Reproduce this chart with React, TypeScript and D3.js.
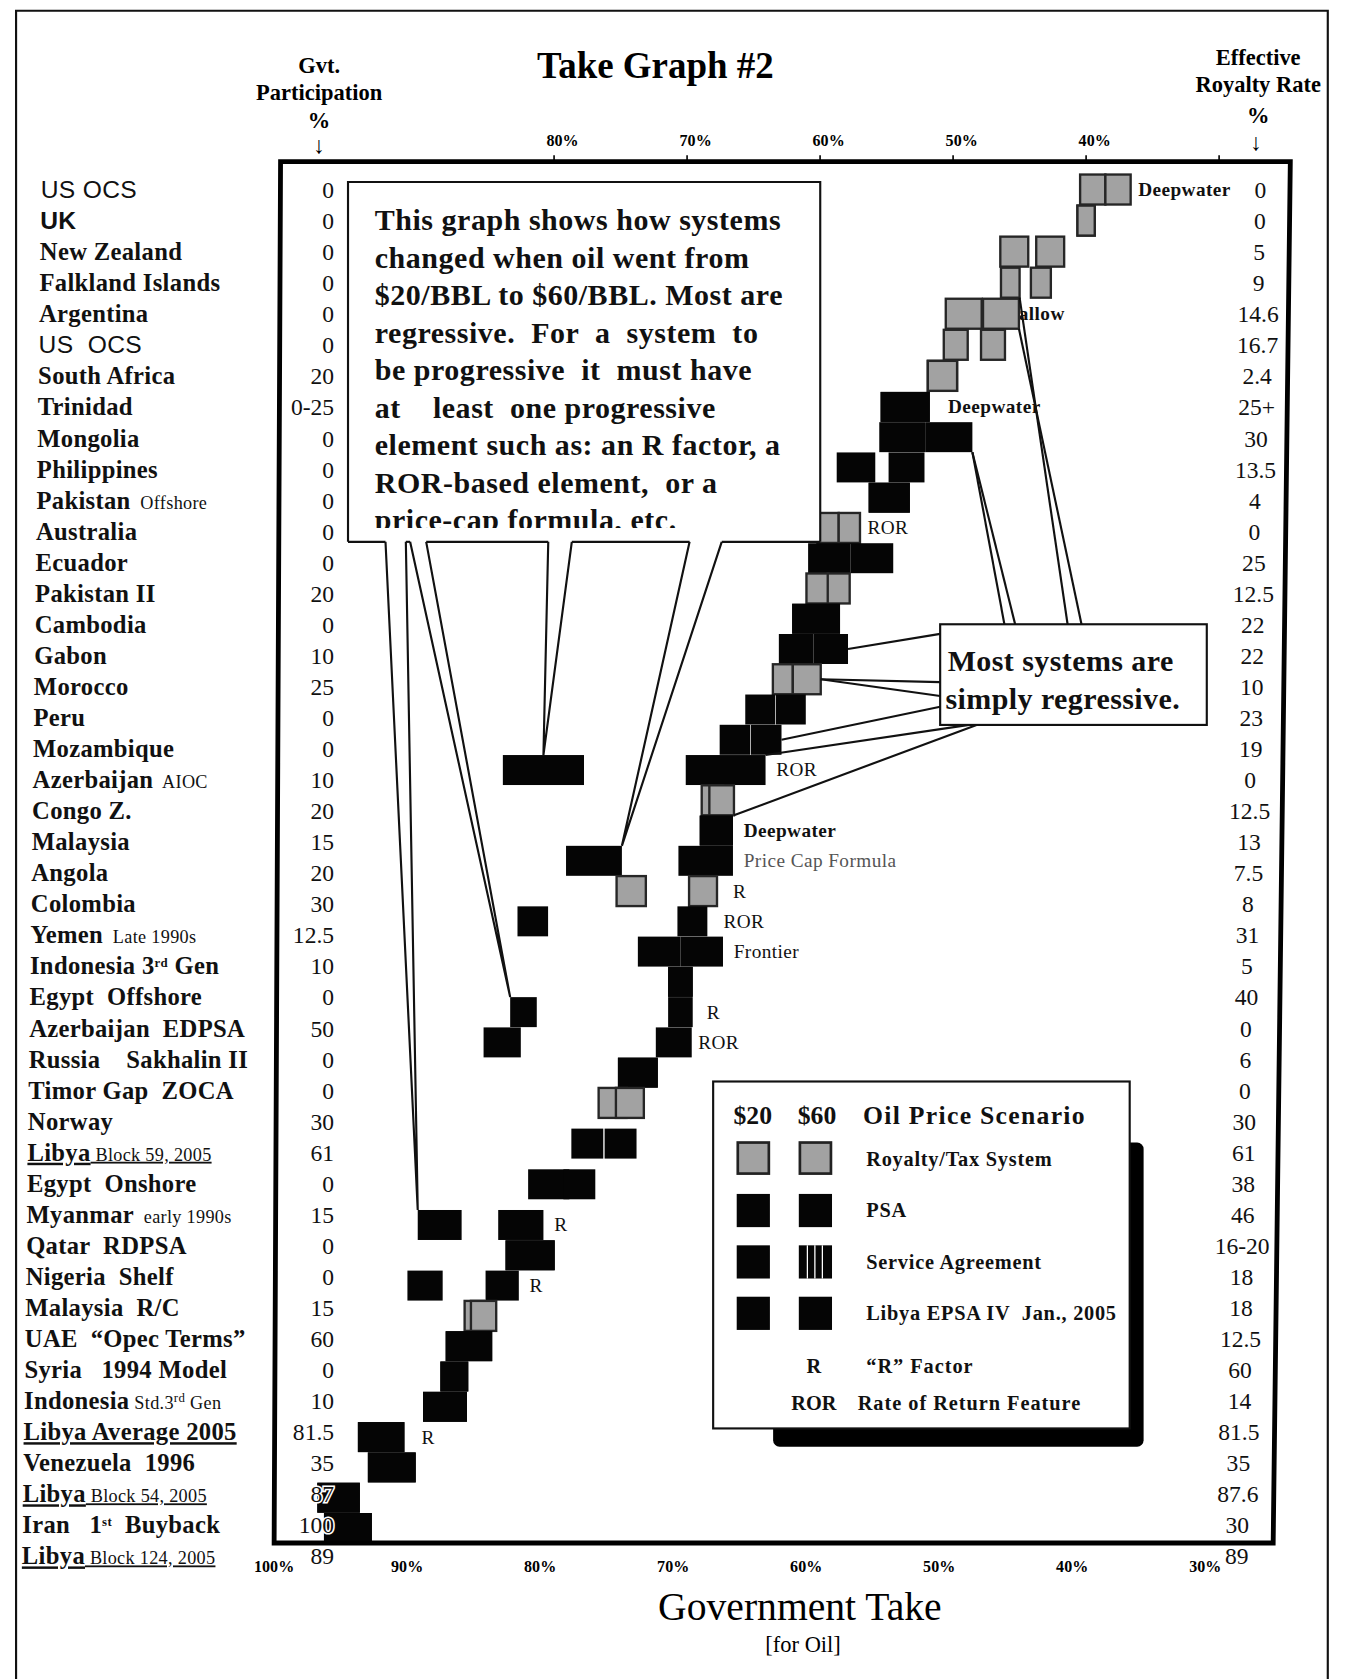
import React from 'react';
import * as d3 from 'd3';

// rows, top to bottom.  "|" starts the small part, ^..^ is a superscript
const rowLabels = [
  'US OCS', 'UK', 'New Zealand', 'Falkland Islands', 'Argentina', 'US  OCS',
  'South Africa', 'Trinidad', 'Mongolia', 'Philippines', 'Pakistan|  Offshore',
  'Australia', 'Ecuador', 'Pakistan II', 'Cambodia', 'Gabon', 'Morocco', 'Peru',
  'Mozambique', 'Azerbaijan|  AIOC', 'Congo Z.', 'Malaysia', 'Angola', 'Colombia',
  'Yemen|  Late 1990s', 'Indonesia 3^rd^ Gen', 'Egypt  Offshore', 'Azerbaijan  EDPSA',
  'Russia    Sakhalin II', 'Timor Gap  ZOCA', 'Norway', 'Libya| Block 59, 2005',
  'Egypt  Onshore', 'Myanmar|  early 1990s', 'Qatar  RDPSA', 'Nigeria  Shelf',
  'Malaysia  R/C', 'UAE  \u201cOpec Terms\u201d', 'Syria   1994 Model',
  'Indonesia| Std.3^rd^ Gen', 'Libya Average 2005', 'Venezuela  1996',
  'Libya| Block 54, 2005', 'Iran   1^st^  Buyback', 'Libya| Block 124, 2005',
];
const underlinedRows = [31, 40, 42, 44];
const sansRows = [0, 1, 5];

const govtParticipation = [
  '0', '0', '0', '0', '0', '0', '20', '0-25', '0', '0', '0', '0', '0', '20', '0',
  '10', '25', '0', '0', '10', '20', '15', '20', '30', '12.5', '10', '0', '50', '0',
  '0', '30', '61', '0', '15', '0', '0', '15', '60', '0', '10', '81.5', '35', '87',
  '100', '89',
];
const royaltyRate = [
  '0', '0', '5', '9', '14.6', '16.7', '2.4', '25+', '30', '13.5', '4', '0', '25',
  '12.5', '22', '22', '10', '23', '19', '0', '12.5', '13', '7.5', '8', '31', '5',
  '40', '0', '6', '0', '30', '61', '38', '46', '16-20', '18', '18', '12.5', '60',
  '14', '81.5', '35', '87.6', '30', '89',
];

// rt = royalty/tax system (grey), psa = black
const systemType = [
  'rt', 'rt', 'rt', 'rt', 'rt', 'rt', 'rt', 'psa', 'psa', 'psa', 'psa', 'rt', 'psa',
  'rt', 'psa', 'psa', 'rt', 'psa', 'psa', 'psa', 'rt', 'psa', 'psa', 'rt', 'psa',
  'psa', 'psa', 'psa', 'psa', 'psa', 'rt', 'psa', 'psa', 'psa', 'psa', 'psa', 'rt',
  'psa', 'psa', 'psa', 'psa', 'psa', 'psa', 'psa', 'none',
];

// government take (%) at $20 and $60 oil, and the drawn box width (% take)
const take20 = [
  39.5, 40.0, 45.4, 45.7, 49.2, 49.8, 50.8, 53.6, 53.8, 57.3, 54.8, 59.4, 59.3,
  60.2, 60.3, 61.8, 62.8, 64.5, 66.4, 67.1, 68.1, 67.8, 68.6, 68.8, 69.6, 72.1,
  70.5, 70.5, 71.0, 73.7, 75.6, 77.5, 80.4, 82.5, 81.8, 83.9, 86.0, 86.4, 87.5,
  88.2, 93.0, 92.2, 96.2, 95.5, NaN,
];
const take60 = [
  37.6, 40.0, 42.7, 43.4, 46.4, 47.0, 50.8, 53.6, 50.3, 53.5, 54.8, 57.8, 56.1,
  58.6, 60.3, 59.2, 61.0, 62.2, 64.05, 80.8, 67.4, 67.8, 77.0, 74.2, 81.6, 68.9,
  70.5, 82.3, 83.9, 73.7, 74.3, 75.0, 78.1, 88.6, 81.8, 89.7, 85.3, 86.4, 87.5,
  88.2, 93.0, 92.2, 96.2, 95.5, NaN,
];
const width20 = [
  1.9, 1.3, 2.1, 1.4, 2.7, 1.8, 2.2, 3.7, 3.5, 2.9, 3.1, 1.6, 3.2, 1.65, 3.6, 2.6,
  1.5, 2.25, 2.3, 6.0, 1.6, 2.5, 4.1, 2.1, 2.25, 3.2, 1.85, 1.85, 2.7, 3.0, 2.1,
  2.4, 3.1, 3.4, 3.7, 2.5, 1.45, 3.5, 2.1, 3.3, 3.5, 3.6, 3.2, 3.6, 0,
];
const width60 = [
  1.9, 1.3, 2.1, 1.5, 2.7, 1.8, 2.2, 3.7, 3.5, 2.7, 3.1, 1.6, 3.2, 1.65, 3.6, 2.6,
  2.1, 2.25, 2.3, 6.1, 1.85, 2.5, 4.2, 2.2, 2.3, 3.2, 1.85, 2.0, 2.8, 3.0, 2.1,
  2.4, 2.4, 3.3, 3.7, 2.65, 1.9, 3.5, 2.1, 3.3, 3.5, 3.6, 3.2, 3.6, 0,
];

const rowNotes = [
  { row: 0, text: 'Deepwater', bold: true, dx: 7 },
  { row: 4, text: 'Shallow', bold: true, dx: -21 },
  { row: 7, text: 'Deepwater', bold: true, dx: 17 },
  { row: 11, text: 'ROR', dx: 7 },
  { row: 19, text: 'ROR' },
  { row: 21, text: 'Deepwater', bold: true },
  { row: 22, text: 'Price Cap Formula', grey: true },
  { row: 23, text: 'R', dx: 15 },
  { row: 24, text: 'ROR', dx: 15 },
  { row: 25, text: 'Frontier' },
  { row: 27, text: 'R', dx: 13 },
  { row: 28, text: 'ROR', dx: 6 },
  { row: 33, text: 'R' },
  { row: 35, text: 'R' },
  { row: 40, text: 'R', dx: 16 },
];

const topTicks = [80, 70, 60, 50, 40];
const bottomTicks = [100, 90, 80, 70, 60, 50, 40, 30];

const noteLines = [
  'This graph shows how systems',
  'changed when oil went from',
  '$20/BBL to $60/BBL. Most are',
  'regressive.  For  a  system  to',
  'be progressive  it  must have',
  'at    least  one progressive',
  'element such as: an R factor, a',
  'ROR-based element,  or a',
  'price-cap formula, etc.',
];
// wedges from the bottom of the big note to the progressive ($60) boxes
const notePointers = [
  { base: [360, 379], row: 33, at: 'tl' },
  { base: [383, 398], row: 27, at: 'tl' },
  { base: [512, 534], row: 19, at: 'tc' },
  { base: [644, 674], row: 22, at: 'tr' },
];
// lines from the "Most systems" box to regressive systems
const regressivePointers = [
  { from: [938, 583], row: 8, price: 60, at: 'br' },
  { from: [948, 583], row: 8, price: 60, at: 'br' },
  { from: [997, 583], row: 3, price: 20, at: 'br' },
  { from: [1010, 583], row: 4, price: 60, at: 'br' },
  { from: [878, 592], row: 15, price: 60, at: 'rc' },
  { from: [878, 637], row: 16, price: 60, at: 'rc' },
  { from: [878, 650], row: 16, price: 60, at: 'rc' },
  { from: [878, 660], row: 18, price: 60, at: 'rc' },
  { from: [905, 677], row: 19, price: 20, at: 'tr' },
  { from: [912, 677], row: 20, price: 60, at: 'br' },
];

const legendItems = ['Royalty/Tax System', 'PSA', 'Service Agreement', 'Libya EPSA IV  Jan., 2005'];
const legendTypes = ['rt', 'psa', 'sa', 'libya'];
const legendCodes = [['R', '\u201cR\u201d Factor'], ['ROR', 'Rate of Return Feature']];

const SERIF = '"Liberation Serif", "Times New Roman", serif';
const SANS = '"Liberation Sans", Arial, sans-serif';
const GREY = '#a2a2a2';

const x = d3.scaleLinear().domain([100, 30]).range([269, 1138.5]);
// label rows
const y = d3.scaleLinear().domain([0, 44]).range([177, 1453]);
// box rows: the hand-drawn boxes drift up against the labels in the middle of the sheet
const yBox = d3.scaleLinear().domain([0, 7, 30, 33, 43, 44]).range([177, 380, 1030, 1144, 1427, 1456]);
const BOX_H = 28;

const box = (i: number, price: number) => {
  const t = price === 20 ? take20[i] : take60[i];
  const w = price === 20 ? width20[i] : width60[i];
  return {
    x0: x(t + w / 2),
    x1: x(t - w / 2),
    y0: yBox(i) - BOX_H / 2,
    y1: yBox(i) + BOX_H / 2,
  };
};

const anchor = (i: number, price: number, at: string): [number, number] => {
  const b = box(i, price);
  const cx = (b.x0 + b.x1) / 2;
  const cy = (b.y0 + b.y1) / 2;
  switch (at) {
    case 'tl': return [b.x0, b.y0];
    case 'tc': return [cx, b.y0];
    case 'tr': return [b.x1, b.y0];
    case 'br': return [b.x1, b.y1];
    case 'rc': return [b.x1, cy];
    default: return [cx, cy];
  }
};

const labelParts = (s: string) => {
  const [main, small] = s.split('|');
  const parts: { t: string; small: boolean; sup: boolean }[] = [];
  const push = (str: string, sm: boolean) =>
    str.split('^').forEach((t, k) => {
      if (t) parts.push({ t, small: sm, sup: k % 2 === 1 });
    });
  push(main, false);
  if (small) push(small, true);
  return parts;
};

const Box = ({ x0, y0, w, h, type }: any) => {
  if (type === 'rt') {
    return <rect x={x0} y={y0} width={w} height={h} fill={GREY} stroke="#262626" strokeWidth={2.2} />;
  }
  return <rect x={x0} y={y0} width={w} height={h} fill="#050505" />;
};

const App = () => {
  const rows = d3.range(rowLabels.length);
  // the scanned frame leans a little: corners tl, tr, br, bl
  const frame = [[262, 151], [1205, 151], [1189, 1441], [256, 1441]];
  const note = { x0: 325, y0: 170, x1: 766, y1: 506 };
  const most = { x0: 878, y0: 583, x1: 1127, y1: 677 };

  // bottom edge of the note with gaps where the wedges leave it
  const gaps = notePointers.map((p) => p.base).sort((a, b) => a[0] - b[0]);
  const edge: [number, number][] = [];
  let cur = note.x0;
  gaps.forEach(([a, b]) => {
    edge.push([cur, a]);
    cur = b;
  });
  edge.push([cur, note.x1]);

  const halo = { paintOrder: 'stroke', stroke: '#fff', strokeWidth: 3 } as any;

  return (
    <div style={{ position: 'absolute', left: 0, top: 0 }}>
      <svg width={1346} height={1679} viewBox="0 0 1257 1568" style={{ display: 'block', background: '#fff' }}>
        <rect x={0} y={0} width={1257} height={1568} fill="#fff" />
        {/* page frame */}
        <path d="M15,1568 L15,10 L1240,10 L1240,1568" fill="none" stroke="#111" strokeWidth={2} />

        {/* headings */}
        <text x={612} y={73} textAnchor="middle" fontFamily={SERIF} fontWeight="bold" fontSize={34.5}>
          Take Graph #2
        </text>
        <g fontFamily={SERIF} fontWeight="bold" fontSize={21} textAnchor="middle">
          <text x={298} y={68}>Gvt.</text>
          <text x={298} y={93}>Participation</text>
          <text x={298} y={120}>%</text>
          <text x={298} y={143} fontSize={22}>{'\u2193'}</text>
          <text x={1175} y={61}>Effective</text>
          <text x={1175} y={86}>Royalty Rate</text>
          <text x={1175} y={115}>%</text>
          <text x={1173} y={140} fontSize={22}>{'\u2193'}</text>
        </g>
        <g fontFamily={SERIF} fontWeight="bold" fontSize={15} textAnchor="middle">
          {topTicks.map((t) => (
            <text key={t} x={x(t) + 8} y={136}>{t}%</text>
          ))}
          {bottomTicks.map((t) => (
            <text key={t} x={x(t) - 13} y={1468}>{t}%</text>
          ))}
        </g>
        <text x={747} y={1513} textAnchor="middle" fontFamily={SERIF} fontSize={37}>
          Government Take
        </text>
        <text x={750} y={1543} textAnchor="middle" fontFamily={SERIF} fontSize={21}>
          [for Oil]
        </text>

        {/* row labels */}
        {rows.map((i) => (
          <text
            key={'l' + i}
            x={38 - i * 0.4}
            y={y(i) + 8}
            fontFamily={sansRows.includes(i) ? SANS : SERIF}
            fontWeight={i === 0 || i === 5 ? 'normal' : 'bold'}
            fontSize={23}
            letterSpacing={0.3}
            fill="#111"
            textDecoration={underlinedRows.includes(i) ? 'underline' : undefined}
            style={{ whiteSpace: 'pre' }}
          >
            {labelParts(rowLabels[i]).map((p, k) => (
              <tspan
                key={k}
                fontSize={p.sup ? 12 : p.small ? 17 : 23}
                fontWeight={p.small ? 'normal' : undefined}
                baselineShift={p.sup ? 'super' : undefined}
              >
                {p.t}
              </tspan>
            ))}
          </text>
        ))}

        {/* notes next to boxes (drawn under the boxes) */}
        {rowNotes.map((n) => {
          const right = Math.max(box(n.row, 20).x1, box(n.row, 60).x1);
          return (
            <text
              key={'n' + n.row}
              x={right + (n.dx ?? 10)}
              y={yBox(n.row) + 6}
              fontFamily={SERIF}
              fontWeight={n.bold ? 'bold' : 'normal'}
              fontSize={18}
              letterSpacing={0.4}
              fill={n.grey ? '#555' : '#111'}
            >
              {n.text}
            </text>
          );
        })}

        {/* boxes */}
        {rows.filter((i) => systemType[i] !== 'none').map((i) =>
          [20, 60].map((p) => {
            const b = box(i, p);
            return <Box key={i + '-' + p} x0={b.x0} y0={b.y0} w={b.x1 - b.x0} h={b.y1 - b.y0} type={systemType[i]} />;
          })
        )}

        {/* value columns */}
        <g fontFamily={SERIF} fontSize={22} fill="#111">
          {rows.map((i) => (
            <text key={'g' + i} x={312} y={y(i) + 8} textAnchor="end" style={halo}>
              {govtParticipation[i]}
            </text>
          ))}
          {rows.map((i) => (
            <text key={'r' + i} x={1177 - i * 0.5} y={y(i) + 8} textAnchor="middle">
              {royaltyRate[i]}
            </text>
          ))}
        </g>

        {/* chart frame */}
        <path d={'M' + frame.map((p) => p.join(',')).join(' L') + ' Z'} fill="none" stroke="#000" strokeWidth={4.5} />
        {topTicks.concat([30]).map((t) => (
          <line key={'tk' + t} x1={x(t)} x2={x(t)} y1={frame[0][1]} y2={frame[0][1] - 6} stroke="#000" strokeWidth={1.5} />
        ))}

        {/* big note */}
        <rect x={note.x0} y={note.y0} width={note.x1 - note.x0} height={note.y1 - note.y0} fill="#fff" stroke="none" />
        <path
          d={`M${note.x0},${note.y1} L${note.x0},${note.y0} L${note.x1},${note.y0} L${note.x1},${note.y1}`}
          fill="none"
          stroke="#111"
          strokeWidth={2}
        />
        {edge.map(([a, b], k) => (
          <line key={'e' + k} x1={a} x2={b} y1={note.y1} y2={note.y1} stroke="#111" strokeWidth={2} />
        ))}
        <clipPath id="noteClip">
          <rect x={note.x0} y={note.y0} width={note.x1 - note.x0} height={323} />
        </clipPath>
        <g clipPath="url(#noteClip)" fontFamily={SERIF} fontWeight="bold" fontSize={28} letterSpacing={0.5} fill="#111">
          {noteLines.map((l, k) => (
            <text key={k} x={350} y={215 + k * 35} style={{ whiteSpace: 'pre' }}>
              {l}
            </text>
          ))}
        </g>
        {notePointers.map((p, k) => {
          const [tx, ty] = anchor(p.row, 60, p.at);
          return (
            <path
              key={'w' + k}
              d={`M${p.base[0]},${note.y1} L${tx},${ty} L${p.base[1]},${note.y1}`}
              fill="#fff"
              stroke="#111"
              strokeWidth={2}
            />
          );
        })}

        {/* "Most systems" note */}
        {regressivePointers.map((p, k) => {
          const [tx, ty] = anchor(p.row, p.price, p.at);
          return <line key={'m' + k} x1={p.from[0]} y1={p.from[1]} x2={tx} y2={ty} stroke="#111" strokeWidth={2} />;
        })}
        <rect x={most.x0} y={most.y0} width={most.x1 - most.x0} height={most.y1 - most.y0} fill="#fff" stroke="#111" strokeWidth={2} />
        <g fontFamily={SERIF} fontWeight="bold" fontSize={28} letterSpacing={0.4} fill="#111">
          <text x={885} y={627}>Most systems are</text>
          <text x={883} y={662}>simply regressive.</text>
        </g>

        {/* legend */}
        <rect x={722} y={1067} width={346} height={284} rx={6} fill="#000" />
        <rect x={666} y={1010} width={389} height={324} fill="#fff" stroke="#111" strokeWidth={2} />
        <g fontFamily={SERIF} fontWeight="bold" fill="#111">
          <text x={703} y={1050} fontSize={24} textAnchor="middle">$20</text>
          <text x={763} y={1050} fontSize={24} textAnchor="middle">$60</text>
          <text x={806} y={1050} fontSize={24} letterSpacing={1.2}>Oil Price Scenario</text>
          {legendItems.map((it, k) => {
            const cy = 1082 + k * 48;
            const type = legendTypes[k];
            return (
              <g key={it}>
                {type === 'rt' ? (
                  <>
                    <rect x={689} y={cy - 15} width={29} height={29} fill={GREY} stroke="#222" strokeWidth={2.5} />
                    <rect x={747} y={cy - 15} width={29} height={29} fill={GREY} stroke="#222" strokeWidth={2.5} />
                  </>
                ) : (
                  <>
                    <rect x={688} y={cy - 15} width={31} height={31} fill="#050505" />
                    <rect x={746} y={cy - 15} width={31} height={31} fill="#050505" />
                    {type === 'sa' && (
                      <>
                        <line x1={754} x2={754} y1={cy - 15} y2={cy + 16} stroke="#fff" strokeWidth={1.2} />
                        <line x1={761} x2={761} y1={cy - 15} y2={cy + 16} stroke="#fff" strokeWidth={1.2} />
                        <line x1={768} x2={768} y1={cy - 15} y2={cy + 16} stroke="#fff" strokeWidth={1.2} />
                      </>
                    )}
                  </>
                )}
                <text x={809} y={cy + 7} fontSize={19} letterSpacing={0.7} style={{ whiteSpace: 'pre' }}>{it}</text>
              </g>
            );
          })}
          {legendCodes.map(([code, desc], k) => (
            <g key={code}>
              <text x={760} y={1282 + k * 35} fontSize={19} textAnchor="middle">{code}</text>
              <text x={k === 0 ? 809 : 801} y={1282 + k * 35} fontSize={19} letterSpacing={0.9}>{desc}</text>
            </g>
          ))}
        </g>
      </svg>
    </div>
  );
};

export default App;
